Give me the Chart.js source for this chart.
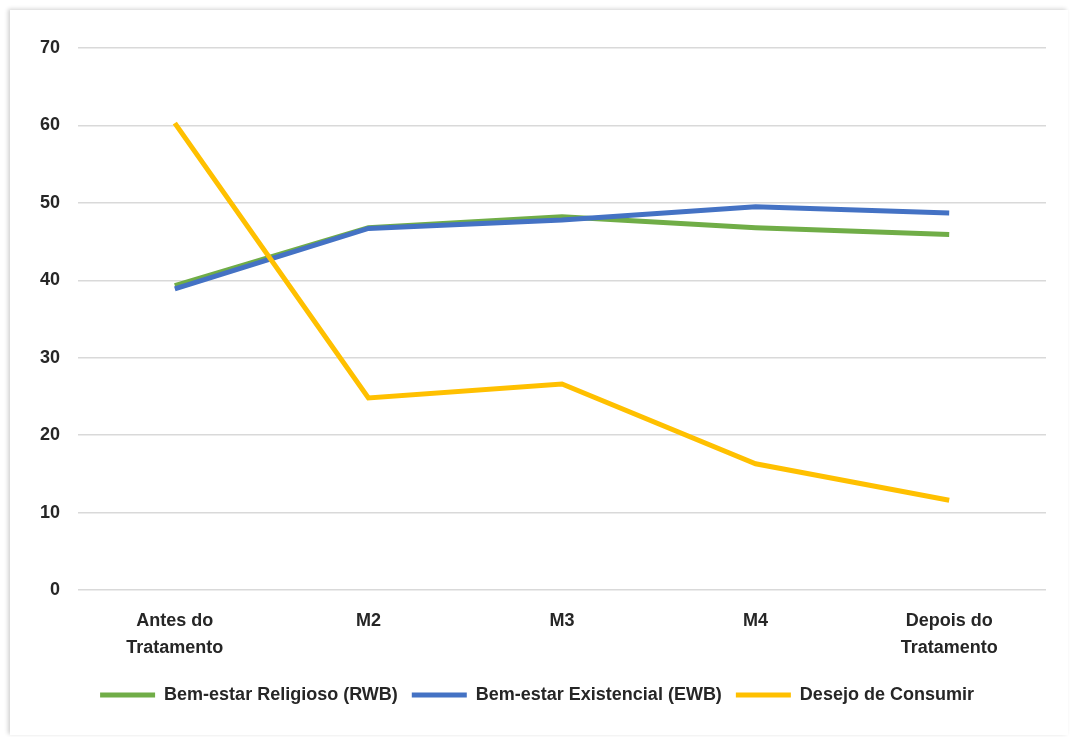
<!DOCTYPE html>
<html lang="pt">
<head>
    <meta charset="UTF-8">
    <title>Bem-estar e Desejo de Consumir</title>
    <script src="https://cdn.jsdelivr.net/npm/chart.js"></script>
    <style>
        body {
            margin: 0;
            background: #ffffff;
        }
        .card {
            position: absolute;
            left: 10px;
            top: 10px;
            width: 1058px;
            height: 725px;
            background: #ffffff;
            box-shadow: -2px -1px 4px rgba(0, 0, 0, 0.18);
        }
    </style>
</head>
<body>
    <div class="card">
        <canvas id="grafico"></canvas>
    </div>

    <script>
        // dados
        const momentos = [["Antes do", "Tratamento"], "M2", "M3", "M4", ["Depois do", "Tratamento"]];
        const rwb = [39.3, 46.8, 48.2, 46.8, 45.9];
        const ewb = [38.9, 46.7, 47.8, 49.5, 48.7];
        const desejo = [60.3, 24.8, 26.6, 16.3, 11.6];
        const yTicks = [0, 10, 20, 30, 40, 50, 60, 70];

        const fonte = "'Liberation Sans Narrow', 'Liberation Sans', Arial, sans-serif";

        // order: menor valor fica por cima
        function serie(label, data, cor, ordem) {
            return {
                label: label,
                data: data,
                borderColor: cor,
                backgroundColor: cor,
                borderWidth: 5,
                pointRadius: 0,
                tension: 0,
                fill: false,
                order: ordem
            };
        }

        new Chart(document.getElementById("grafico").getContext("2d"), {
            type: "line",
            data: {
                labels: momentos,
                datasets: [
                    serie("Bem-estar Religioso (RWB)", rwb, "#70AD47", 2),
                    serie("Bem-estar Existencial (EWB)", ewb, "#4472C4", 1),
                    serie("Desejo de Consumir", desejo, "#FFC000", 0)
                ]
            },
            options: {
                responsive: true,
                maintainAspectRatio: false,
                animation: false,
                layout: {
                    padding: { top: 38, right: 22, bottom: 21, left: 18 }
                },
                scales: {
                    x: {
                        offset: true,
                        grid: { display: false },
                        border: { display: false },
                        ticks: {
                            color: "#262626",
                            font: { family: fonte, size: 18, weight: "bold", lineHeight: 1.5 },
                            maxRotation: 0,
                            padding: 10
                        }
                    },
                    y: {
                        min: 0,
                        max: 70,
                        afterBuildTicks: function (scale) {
                            scale.ticks = yTicks.map(v => ({ value: v }));
                        },
                        afterFit: function (scale) {
                            scale.width = 50;
                        },
                        grid: { color: "#d9d9d9", lineWidth: 1.5, drawTicks: false },
                        border: { display: false },
                        ticks: {
                            color: "#262626",
                            font: { family: fonte, size: 18, weight: "bold" },
                            padding: 18
                        }
                    }
                },
                plugins: {
                    legend: {
                        position: "bottom",
                        labels: {
                            usePointStyle: true,
                            pointStyle: "line",
                            pointStyleWidth: 55,
                            boxHeight: 5,
                            padding: 14,
                            color: "#262626",
                            font: { family: fonte, size: 18, weight: "bold" },
                            sort: (a, b) => a.datasetIndex - b.datasetIndex
                        }
                    },
                    tooltip: { enabled: false }
                }
            }
        });
    </script>
</body>
</html>
